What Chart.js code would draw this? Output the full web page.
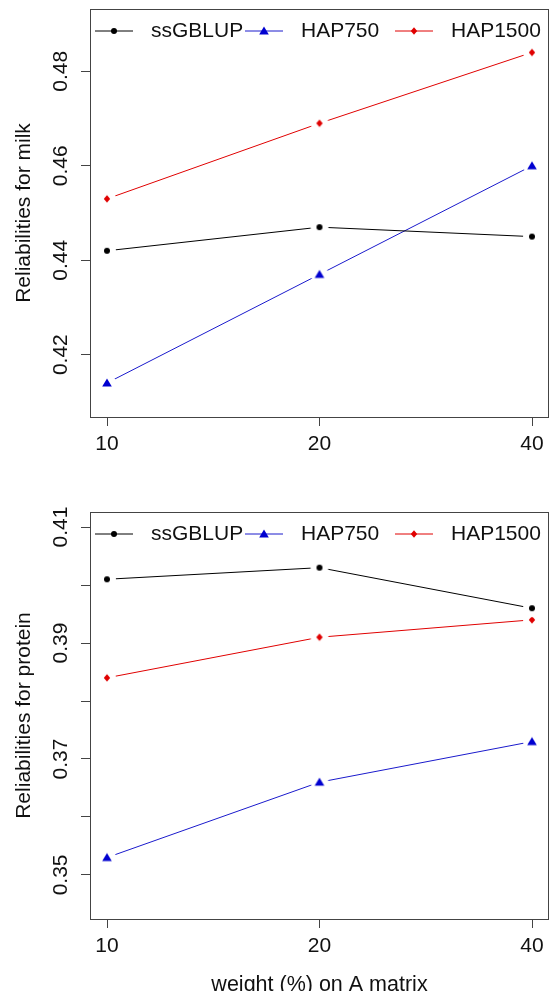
<!DOCTYPE html>
<html>
<head>
<meta charset="utf-8">
<script src="https://cdn.jsdelivr.net/npm/chart.js@4.4.1/dist/chart.umd.min.js"></script>
<style>
  html, body { margin: 0; padding: 0; background: #fff; overflow: hidden; }
  #wrap { position: relative; width: 550px; height: 991px; overflow: hidden; }
  canvas { position: absolute; left: 0; }
  #milkChart { top: 0; }
  #proteinChart { top: 495px; }
</style>
</head>
<body>
<div id="wrap">
  <canvas id="milkChart" width="550" height="480"></canvas>
  <canvas id="proteinChart" width="550" height="520"></canvas>
</div>
<script>
// =========================
// Data
// =========================

const weights = ["10", "20", "40"];
const seriesNames = ["ssGBLUP", "HAP750", "HAP1500"];

const milkSsGBLUP = [0.442, 0.447, 0.445];
const milkHAP750 = [0.414, 0.437, 0.460];
const milkHAP1500 = [0.453, 0.469, 0.484];

const proteinSsGBLUP = [0.401, 0.403, 0.396];
const proteinHAP750 = [0.353, 0.366, 0.373];
const proteinHAP1500 = [0.384, 0.391, 0.394];

const milkTicks = [0.42, 0.44, 0.46, 0.48];
const milkTickLabels = ["0.42", "0.44", "0.46", "0.48"];
const proteinTicks = [0.35, 0.36, 0.37, 0.38, 0.39, 0.40, 0.41];
const proteinTickLabels = ["0.35", "", "0.37", "", "0.39", "", "0.41"];

const milkRange = [0.4068, 0.4932];
const proteinRange = [0.3424, 0.4126];

// =========================
// Styling helpers
// =========================

const FONT = "'Liberation Sans', Arial, sans-serif";
const TEXT = "#111";
const FRAME = "#444";

Chart.defaults.font.family = FONT;

const styles = [
    { line: "#000000", point: "#000000", kind: "dot" },
    { line: "#1a1acc", point: "#0000d0", kind: "triangle" },
    { line: "#e00000", point: "#e00000", kind: "diamond" }
];

function drawMarker(ctx, kind, x, y, color) {
    ctx.fillStyle = color;
    ctx.beginPath();
    if (kind === "dot") {
        ctx.arc(x, y, 3, 0, Math.PI * 2);
    } else if (kind === "triangle") {
        ctx.moveTo(x, y - 4.5);
        ctx.lineTo(x + 4.8, y + 3.5);
        ctx.lineTo(x - 4.8, y + 3.5);
        ctx.closePath();
    } else {
        ctx.moveTo(x, y - 3.8);
        ctx.lineTo(x + 3.2, y);
        ctx.lineTo(x, y + 3.8);
        ctx.lineTo(x - 3.2, y);
        ctx.closePath();
    }
    ctx.fill();
}

// marker with a white disc round it, so the line stops short (R type = "b")
function markerSprite(kind, color) {
    const c = document.createElement("canvas");
    c.width = 20;
    c.height = 20;
    const g = c.getContext("2d");
    g.fillStyle = "#fff";
    g.beginPath();
    g.arc(10, 10, 9, 0, Math.PI * 2);
    g.fill();
    drawMarker(g, kind, 10, 10, color);
    return c;
}

// frame round the plot + horizontal legend inside the top of it
const frameAndLegend = {
    id: "frameAndLegend",
    afterDraw(chart) {
        const { ctx, chartArea: a } = chart;
        ctx.save();
        ctx.strokeStyle = FRAME;
        ctx.lineWidth = 1;
        ctx.strokeRect(Math.round(a.left) + 0.5, Math.round(a.top) + 0.5,
            Math.round(a.right - a.left) - 1, Math.round(a.bottom - a.top));

        const y = a.top + 22;
        chart.data.datasets.forEach((ds, i) => {
            const x0 = a.left + 5 + i * 150;
            ctx.strokeStyle = ds.borderColor;
            ctx.beginPath();
            ctx.moveTo(x0, y);
            ctx.lineTo(x0 + 38, y);
            ctx.stroke();
            drawMarker(ctx, ds.markerKind, x0 + 19, y, ds.markerColor);
            ctx.fillStyle = TEXT;
            ctx.font = "21px " + FONT;
            ctx.textBaseline = "middle";
            ctx.textAlign = "left";
            ctx.fillText(ds.label, x0 + 56, y);
        });
        ctx.restore();
    }
};

function makeChart(id, series, yTicks, yLabels, yRange, yTitle, xTitle, padTop, xAxisHeight) {

    const datasets = series.map((values, i) => ({
        label: seriesNames[i],
        data: values.map((v, j) => ({ x: j, y: v })),
        borderColor: styles[i].line,
        borderWidth: 1,
        pointStyle: markerSprite(styles[i].kind, styles[i].point),
        pointRadius: 10,
        markerKind: styles[i].kind,
        markerColor: styles[i].point,
        tension: 0
    }));

    return new Chart(document.getElementById(id), {
        type: "line",
        data: { datasets },
        plugins: [frameAndLegend],
        options: {
            responsive: false,
            animation: false,
            layout: {
                autoPadding: false,
                padding: { top: padTop, right: 1, left: 0, bottom: 0 }
            },
            plugins: {
                legend: { display: false },
                tooltip: { enabled: false }
            },
            scales: {
                x: {
                    type: "linear",
                    min: -0.08,
                    max: 2.08,
                    afterBuildTicks: s => { s.ticks = weights.map((w, i) => ({ value: i })); },
                    afterFit: s => {
                        s.height = xAxisHeight;
                        s.paddingLeft = 0;
                        s.paddingRight = 0;
                    },
                    border: { display: false },
                    grid: { drawOnChartArea: false, tickLength: 9, tickColor: FRAME, color: FRAME },
                    ticks: {
                        padding: 6,
                        maxRotation: 0,
                        color: TEXT,
                        font: { size: 21 },
                        callback: (v, i) => weights[i]
                    },
                    title: {
                        display: !!xTitle,
                        text: xTitle,
                        color: TEXT,
                        font: { size: 21.5 },
                        padding: { top: 0, bottom: 17 }
                    }
                },
                y: {
                    type: "linear",
                    min: yRange[0],
                    max: yRange[1],
                    afterBuildTicks: s => { s.ticks = yTicks.map(v => ({ value: v })); },
                    afterFit: s => {
                        s.width = 90;
                        s.paddingTop = 0;
                        s.paddingBottom = 0;
                    },
                    border: { display: false },
                    grid: { drawOnChartArea: false, tickLength: 9, tickColor: FRAME, color: FRAME },
                    ticks: {
                        minRotation: 90,
                        maxRotation: 90,
                        crossAlign: "center",
                        padding: -1,
                        color: TEXT,
                        font: { size: 21 },
                        callback: (v, i) => yLabels[i]
                    },
                    title: {
                        display: true,
                        text: yTitle,
                        color: TEXT,
                        font: { size: 21 },
                        padding: { top: 12, bottom: 0 }
                    }
                }
            }
        }
    });
}

makeChart("milkChart",
    [milkSsGBLUP, milkHAP750, milkHAP1500],
    milkTicks, milkTickLabels, milkRange,
    "Reliabilities for milk", "", 9, 63);

makeChart("proteinChart",
    [proteinSsGBLUP, proteinHAP750, proteinHAP1500],
    proteinTicks, proteinTickLabels, proteinRange,
    "Reliabilities for protein", "weight (%) on A matrix", 17, 96);
</script>
</body>
</html>
